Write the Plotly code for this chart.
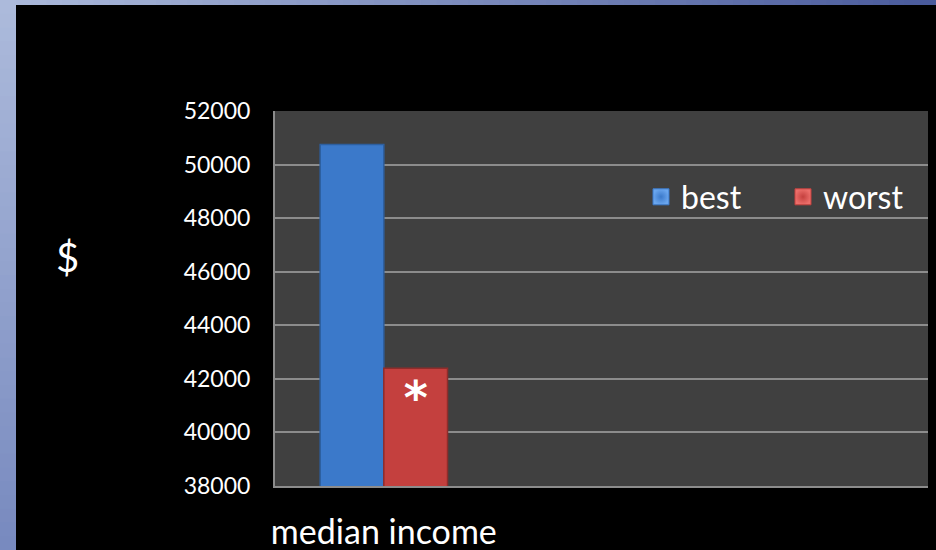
import plotly.graph_objects as go

# Data
categories = ["median income"]
series_names = ["best", "worst"]
best_values = [50750]
worst_values = [42400]
bar_labels_worst = ["*"]
y_ticks = [38000, 40000, 42000, 44000, 46000, 48000, 50000, 52000]

W, H = 936, 550
ML, MR, MT, MB = 275, 8, 111, 64
PW, PH = W - ML - MR, H - MT - MB

FONT = "Lato, 'Open Sans', sans-serif"
BLUE = "#3b79ca"
RED = "#c4403e"
BLUE_LIGHT = "#6aa6ee"
RED_LIGHT = "#ec6e6a"


def px_x(px):
    return (px - ML) / PW


def px_y(py):
    return (H - MB - py) / PH


def mix(c1, c2, t):
    a = [int(c1[i:i + 2], 16) for i in (1, 3, 5)]
    b = [int(c2[i:i + 2], 16) for i in (1, 3, 5)]
    return "#" + "".join(f"{round(a[k] + (b[k] - a[k]) * t):02x}" for k in range(3))


fig = go.Figure()
fig.add_trace(go.Bar(
    name=series_names[0], x=categories, y=best_values, showlegend=False,
    marker=dict(color=BLUE, line=dict(color="#2d5f9f", width=1.5)),
))
fig.add_trace(go.Bar(
    name=series_names[1], x=categories, y=worst_values, showlegend=False,
    text=bar_labels_worst, textposition="inside", insidetextanchor="end",
    textfont=dict(family="DejaVu Sans", size=46, color="white", weight="bold"),
    marker=dict(color=RED, line=dict(color="#8f2c2b", width=1.5)),
))

# legend keys with bevel-like shading
for name, col, light in [(series_names[0], BLUE, BLUE_LIGHT),
                         (series_names[1], RED, RED_LIGHT)]:
    fig.add_trace(go.Scatter(
        name=name, x=[None], y=[None], mode="markers",
        marker=dict(symbol="square", size=16, color=light,
                    gradient=dict(type="radial", color=col),
                    line=dict(color=col, width=1)),
    ))

# slide frame: gradient strips along the top and left edges
shapes = []
n = 60
for i in range(n):
    x0 = i * W / n
    x1 = (i + 1) * W / n + 2
    shapes.append(dict(
        type="rect", xref="paper", yref="paper", layer="below",
        x0=px_x(x0), x1=px_x(x1), y0=px_y(0), y1=px_y(5),
        fillcolor=mix("#acbadb", "#4a5b9c", i / (n - 1)), line_width=0,
    ))
m = 40
for i in range(m):
    y0 = i * H / m
    y1 = (i + 1) * H / m + 2
    shapes.append(dict(
        type="rect", xref="paper", yref="paper", layer="below",
        x0=px_x(0), x1=px_x(16), y0=px_y(y0), y1=px_y(y1),
        fillcolor=mix("#acbadb", "#788abf", i / (m - 1)), line_width=0,
    ))

fig.update_layout(
    width=W, height=H, autosize=False,
    margin=dict(l=ML, r=MR, t=MT, b=MB, pad=0, autoexpand=False),
    paper_bgcolor="#000000", plot_bgcolor="#404040",
    font=dict(family=FONT, color="white"),
    barmode="group", bargap=0.415, bargroupgap=0,
    showlegend=True,
    legend=dict(
        orientation="h", x=px_x(641), xanchor="left", y=px_y(197), yanchor="middle",
        font=dict(family=FONT, size=32, color="white"),
        bgcolor="rgba(0,0,0,0)", itemwidth=30,
        entrywidth=97, entrywidthmode="pixels",
    ),
    shapes=shapes,
    annotations=[dict(
        text="$", xref="paper", yref="paper", x=px_x(67), y=px_y(257),
        xanchor="center", yanchor="middle", showarrow=False,
        font=dict(family=FONT, size=40, color="white"),
    )],
)
fig.update_xaxes(
    type="category", range=[-0.5, 2.5], automargin=False,
    showgrid=False, showline=True, linecolor="#8c8c8c", linewidth=2,
    ticks="", tickfont=dict(family=FONT, size=34, color="white"),
    ticklabelstandoff=15, fixedrange=True,
)
fig.update_yaxes(
    range=[38000, 52000], tickvals=y_ticks, ticktext=[str(v) for v in y_ticks],
    automargin=False,
    showgrid=True, gridcolor="#8c8c8c", gridwidth=2,
    showline=True, linecolor="#8c8c8c", linewidth=2, zeroline=False,
    ticks="", tickfont=dict(family=FONT, size=23, color="white"),
    ticklabelstandoff=18, fixedrange=True,
)

fig.write_html("out.html")
